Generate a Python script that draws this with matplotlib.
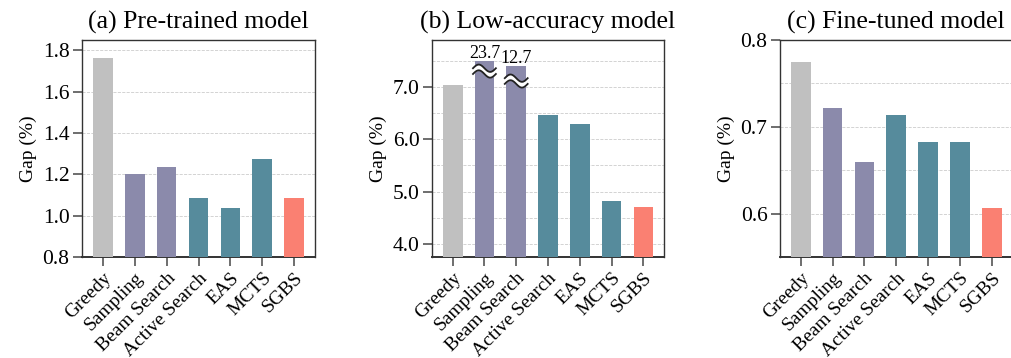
import matplotlib.pyplot as plt
import numpy as np
from matplotlib.ticker import MultipleLocator

plt.rcParams['font.family'] = ['Liberation Serif', 'DejaVu Serif']

methods = ['Greedy', 'Sampling', 'Beam Search', 'Active Search', 'EAS', 'MCTS', 'SGBS']
colors = ['#c0c0c0', '#8b8aab', '#8b8aab', '#568b9c', '#568b9c', '#568b9c', '#fa8072']

gap_pretrained = [1.761, 1.201, 1.235, 1.085, 1.037, 1.273, 1.085]
gap_lowacc = [7.03, 23.7, 12.7, 6.46, 6.29, 4.82, 4.70]
gap_finetuned = [0.775, 0.722, 0.659, 0.714, 0.683, 0.683, 0.607]

# bars that run off the top of panel (b) are cut at these heights
lowacc_cut = {1: 7.50, 2: 7.40}
lowacc_break = {1: 7.25, 2: 7.06}

fig = plt.figure(figsize=(10.11, 3.58), dpi=100)
boxes = [[0.0811, 0.2821, 0.2305, 0.6062],
         [0.4273, 0.2821, 0.2295, 0.6062],
         [0.7715, 0.2821, 0.2300, 0.6062]]
axes = [fig.add_axes(b) for b in boxes]

titles = ['(a) Pre-trained model', '(b) Low-accuracy model', '(c) Fine-tuned model']
ylims = [(0.8, 1.85), (3.75, 7.9), (0.55, 0.8)]
major = [0.2, 1.0, 0.1]
minor = [0.2, 0.5, 0.05]

x = np.arange(len(methods))
for i, (ax, vals) in enumerate(zip(axes, [gap_pretrained, gap_lowacc, gap_finetuned])):
    heights = list(vals)
    if i == 1:
        for k, h in lowacc_cut.items():
            heights[k] = h
    ax.bar(x, heights, width=0.62, color=colors, zorder=3)
    ax.set_xlim(-0.65, 6.65)
    ax.set_ylim(*ylims[i])
    ax.yaxis.set_major_locator(MultipleLocator(major[i]))
    ax.yaxis.set_minor_locator(MultipleLocator(minor[i]))
    ax.yaxis.set_major_formatter('{x:.1f}')
    ax.tick_params(axis='y', which='minor', length=0)
    ax.grid(axis='y', which='both', linestyle='--', color='#cccccc', linewidth=0.6, zorder=0)
    ax.set_xticks(x)
    ax.set_xticklabels(methods, rotation=45, ha='right', rotation_mode='anchor', fontsize=14)
    ax.tick_params(axis='both', which='major', direction='out', length=6.5, width=1.2,
                   color='#555555', pad=2.5)
    ax.tick_params(axis='y', labelsize=15.5)
    ax.set_ylabel('Gap (%)', fontsize=14)
    ax.set_title(titles[i], fontsize=18.5, pad=8)
    for s in ax.spines.values():
        s.set_color('#333333')
        s.set_linewidth(1.0)
    ax.spines['bottom'].set_linewidth(1.4)

# value labels and break marks for the cut bars
ax = axes[1]
for k, h in lowacc_cut.items():
    ax.text(x[k], h - 0.02, '{:.1f}'.format(gap_lowacc[k]), ha='center', va='bottom', fontsize=13)
    wx = np.linspace(x[k] - 0.36, x[k] + 0.36, 80)
    wave = 0.07 * np.sin((wx - wx[0]) * 2 * np.pi / (wx[-1] - wx[0]))
    lo = lowacc_break[k] + wave
    hi = lo + 0.11
    ax.fill_between(wx, lo, hi, color='white', zorder=4, lw=0)
    ax.plot(wx, lo, color='#222222', lw=1.3, zorder=5)
    ax.plot(wx, hi, color='#222222', lw=1.3, zorder=5)

fig.savefig('out.png', dpi=100)
